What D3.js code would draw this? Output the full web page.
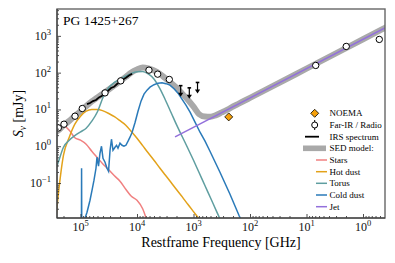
<!DOCTYPE html>
<html>
<head>
<meta charset="utf-8">
<script src="https://cdn.jsdelivr.net/npm/d3@7"></script>
<style>
  body { margin: 0; background: #fff; }
  svg, svg text { font-family: "Liberation Serif", "Times New Roman", "DejaVu Serif", serif; }
</style>
</head>
<body>
<svg id="sed" width="395" height="263" font-family="Liberation Serif, Times New Roman, serif"></svg>
<script>
// photometry, restframe GHz / mJy
const firFreq = [247000, 196000, 125000, 93000, 36800, 19400, 6140, 4310, 2680, 6.87, 1.98, 0.515];
const firFlux = [3.15, 3.97, 6.55, 10.6, 28.2, 59.8, 117, 91, 65.3, 157, 516, 800];
const noemaFreq = [238];
const noemaFlux = [6.27];
const limFreq = [1687, 1186, 849];
const limFlux = [44.3, 38.6, 54.1];

// IRS spectrum
const irsFreq = [76700, 67900, 60100, 53200, 47100, 41600, 36800, 32600, 28800, 25500, 22600, 20000, 17700, 15700, 13900, 12200];
const irsFlux = [13.9, 15.0, 16.9, 18.0, 21.2, 23.5, 27.9, 32.0, 38.3, 41.2, 49.0, 54.6, 65.0, 72.5, 83.5, 93.5];

// model components on a common frequency grid
const modelFreq = [316000, 251000, 200000, 158000, 126000, 100000, 79400, 63100, 50100, 39800,
  31600, 25100, 20000, 15800, 12600, 10000, 7940, 6310, 5010, 3980,
  3160, 2510, 2000, 1580, 1260, 1000, 794, 631, 501, 398,
  316, 251, 200, 158, 126, 100];
const starsFlux = [3.0, 3.40, 3.61, 2.72, 1.70, 1.46, 1.13, 0.731, 0.486, 0.324,
  0.229, 0.157, 0.112, 0.0676, 0.0436, 0.0339, 0.0199, 0.0071, null, null,
  null, null, null, null, null, null, null, null, null, null,
  null, null, null, null, null, null];
const hotFlux = [0.0008, 0.0385, 0.569, 1.76, 3.97, 6.55, 8.96, 10.0, 10.0, 9.14,
  7.76, 6.35, 4.94, 3.73, 2.51, 1.65, 1.04, 0.653, 0.416, 0.260,
  0.165, 0.105, 0.0664, 0.0420, 0.0264, 0.0167, 0.0106, 0.00665, null, null,
  null, null, null, null, null, null];
const torusFlux = [0.13, 0.344, 0.939, 1.46, 1.93, 2.45, 3.09, 4.79, 8.68, 21.5,
  39.5, 54.1, 66.5, 81.3, 95.7, 106, 108, 92.2, 67.4, 37.9,
  18.4, 8.42, 3.85, 1.81, 0.883, 0.416, 0.190, 0.0868, 0.0397, 0.0181,
  0.00828, null, null, null, null, null];

// cold dust template (with PAH features)
const coldFreq = [96400, 95700, 94900, 84900, 83200, 76700, 67900, 62600, 57700, 53200,
  51100, 48000, 45200, 42500, 40000, 36800, 34000, 31900, 30000, 28300,
  26600, 24500, 23000, 21700, 20000, 18400, 17000, 15700, 14400, 13300,
  12200, 10800, 9600, 8490, 7520, 6650, 5890, 5000, 4250, 3610,
  3070, 2610, 2210, 1880, 1600, 1360, 1150, 940, 767, 625,
  511, 340, 226, 157, 123];
const coldFlux = [0.00277, 0.252, 0.00277, 0.00277, 0.011, 0.016, 0.034, 0.0635, 0.119, 0.252,
  0.502, 0.286, 0.645, 1.00, 0.471, 0.367, 0.252, 0.209, 0.778, 1.55,
  0.778, 0.939, 1.06, 0.883, 1.21, 1.06, 1.00, 1.06, 1.37, 1.76,
  2.40, 4.50, 8.96, 16.8, 26.0, 33.4, 40.3, 47.1, 51.8, 53.4,
  50.2, 45.7, 36.7, 27.7, 19.0, 13.1, 8.42, 4.50, 2.40, 1.37,
  0.731, 0.196, 0.0494, 0.0133, 0.00587];

const jetFreq = [2120, 0.41];
const jetFlux = [1.79, 1650];

// total SED model
const sedFreq = [316000, 251000, 200000, 158000, 126000, 100000, 79400, 63100, 50100, 39800,
  31600, 25100, 20000, 15800, 12600, 10000, 7940, 6310, 5010, 3980,
  3160, 2510, 2000, 1580, 1260, 1000, 794, 631, 501, 398,
  316, 251, 200, 158, 126, 100, 10, 1, 0.316];
const sedFlux = [2.12, 2.64, 3.66, 4.88, 6.63, 8.96, 12.3, 16.5, 21.3, 27.2,
  34.7, 44.9, 58.7, 76.4, 101, 122, 137, 130, 115, 94,
  70.8, 53.4, 39.1, 26.8, 18.4, 11.9, 7.4, 6.4, 6.3, 7.0,
  8.3, 9.9, 12.0, 14.4, 17.2, 20.6, 128, 808, 2030];

const xTicks = [1e5, 1e4, 1e3, 1e2, 1e1, 1e0];
const xTickExp = ["5", "4", "3", "2", "1", "0"];
const yTicks = [1e-1, 1e0, 1e1, 1e2, 1e3];
const yTickExp = ["\u22121", "0", "1", "2", "3"];

const compNames = ["Stars", "Hot dust", "Torus", "Cold dust", "Jet"];
const compColors = ["#f08080", "#e3a21a", "#5f9ea0", "#2a7ab9", "#9370db"];

const svg = d3.select("#sed");
const L = 57, R = 385, T = 9, B = 218;

const x = d3.scaleLog().domain([260600, 0.408]).range([L, R]);
const y = d3.scaleLog().domain([0.0112, 5370]).range([B, T]);

svg.append("clipPath").attr("id", "clip")
  .append("rect").attr("x", L).attr("y", T).attr("width", R - L).attr("height", B - T);

const plot = svg.append("g").attr("clip-path", "url(#clip)");

const pairs = (fs, ss) => fs.map((f, i) => ({f, s: ss[i]}));
const line = d3.line()
  .defined(d => d.s != null)
  .x(d => x(d.f)).y(d => y(d.s))
  .curve(d3.curveMonotoneX);
const rough = d3.line().x(d => x(d.f)).y(d => y(d.s));

// SED model
plot.append("path").attr("d", line(pairs(sedFreq, sedFlux)))
  .attr("fill", "none").attr("stroke", "#a9a9a9").attr("stroke-width", 6)
  .attr("stroke-linejoin", "round");

// components
const comps = [
  {d: pairs(modelFreq, starsFlux), c: 0, gen: line},
  {d: pairs(modelFreq, hotFlux), c: 1, gen: line},
  {d: pairs(modelFreq, torusFlux), c: 2, gen: line},
  {d: pairs(coldFreq, coldFlux), c: 3, gen: rough},
  {d: pairs(jetFreq, jetFlux), c: 4, gen: rough}
];
comps.forEach(k => {
  plot.append("path").attr("d", k.gen(k.d))
    .attr("fill", "none").attr("stroke", compColors[k.c]).attr("stroke-width", 1.5);
});

// IRS
plot.append("path").attr("d", rough(pairs(irsFreq, irsFlux)))
  .attr("fill", "none").attr("stroke", "#000").attr("stroke-width", 1.8);

// photometry
plot.selectAll("circle.fir").data(pairs(firFreq, firFlux)).join("circle")
  .attr("class", "fir")
  .attr("cx", d => x(d.f)).attr("cy", d => y(d.s)).attr("r", 3.2)
  .attr("fill", "#fff").attr("stroke", "#000").attr("stroke-width", 1);

plot.selectAll("path.noema").data(pairs(noemaFreq, noemaFlux)).join("path")
  .attr("class", "noema")
  .attr("transform", d => `translate(${x(d.f)},${y(d.s)})`)
  .attr("d", "M0,-4L4,0L0,4L-4,0Z")
  .attr("fill", "#f5a00a").attr("stroke", "#000").attr("stroke-width", 0.8);

const lim = plot.selectAll("g.lim").data(pairs(limFreq, limFlux)).join("g")
  .attr("class", "lim")
  .attr("transform", d => `translate(${x(d.f)},${y(d.s)})`);
lim.append("line").attr("x1", -1.8).attr("x2", 1.8).attr("stroke", "#000").attr("stroke-width", 1.6);
lim.append("line").attr("y1", 0).attr("y2", 8).attr("stroke", "#000").attr("stroke-width", 1.2);
lim.append("path").attr("d", "M-2.6,7L2.6,7L0,11Z").attr("fill", "#000");

// axes
function minors(lo, hi) {
  const out = [];
  for (let e = lo; e <= hi; e++) for (let k = 2; k <= 9; k++) out.push(k * Math.pow(10, e));
  return out;
}
const xMin = minors(-1, 5).filter(v => v < 260600 && v > 0.408);
const yMin = minors(-2, 3).filter(v => v > 0.0112 && v < 5370);

svg.append("g").attr("transform", `translate(0,${B})`)
  .call(d3.axisBottom(x).tickValues(xTicks).tickSize(-4).tickFormat(""));
svg.append("g").attr("transform", `translate(0,${B})`)
  .call(d3.axisBottom(x).tickValues(xMin).tickSize(-2).tickFormat(""));
svg.append("g").attr("transform", `translate(${L},0)`)
  .call(d3.axisLeft(y).tickValues(yTicks).tickSize(-4).tickFormat(""));
svg.append("g").attr("transform", `translate(${L},0)`)
  .call(d3.axisLeft(y).tickValues(yMin).tickSize(-2).tickFormat(""));
svg.selectAll(".domain").remove();
svg.selectAll(".tick line").attr("stroke", "#222").attr("stroke-width", 0.8);

const xl = svg.append("g").selectAll("text").data(xTicks).join("text")
  .attr("x", d => x(d)).attr("y", 231)
  .attr("text-anchor", "middle").attr("font-size", 12).attr("fill", "#111");
xl.append("tspan").text("10");
xl.append("tspan").attr("dy", -5).attr("font-size", 8.5).text((d, i) => xTickExp[i]);

const yl = svg.append("g").selectAll("text").data(yTicks).join("text")
  .attr("x", 51).attr("y", d => y(d) + 4)
  .attr("text-anchor", "end").attr("font-size", 12).attr("fill", "#111");
yl.append("tspan").text("10");
yl.append("tspan").attr("dy", -5).attr("font-size", 8.5).text((d, i) => yTickExp[i]);

// frame
svg.append("rect").attr("x", L).attr("y", T).attr("width", R - L).attr("height", B - T)
  .attr("fill", "none").attr("stroke", "#666").attr("stroke-width", 1.4);
svg.append("path").attr("d", `M${L},${T}V${B}H${R}`)
  .attr("fill", "none").attr("stroke", "#333").attr("stroke-width", 1);

// labels
svg.append("text").attr("x", 63).attr("y", 25).attr("font-size", 13.5).text("PG 1425+267");

svg.append("text").attr("x", 221).attr("y", 247).attr("text-anchor", "middle")
  .attr("font-size", 14).text("Restframe Frequency [GHz]");

const ylab = svg.append("text").attr("transform", "translate(23,113.5) rotate(-90)")
  .attr("text-anchor", "middle").attr("font-size", 14);
ylab.append("tspan").attr("font-style", "italic").text("S");
ylab.append("tspan").attr("font-style", "italic").attr("font-size", 9.5).attr("dy", 3).text("\u03bd");
ylab.append("tspan").attr("dy", -3).text(" [mJy]");

// legend
const lg = svg.append("g").attr("font-size", 9);
const rowY = [113.3, 125, 136.7, 148.3, 160, 171.7, 183.3, 195, 206.7];
const textX = 329.5;
lg.append("path").attr("transform", `translate(314.7,${rowY[0]})`)
  .attr("d", "M0,-4L4,0L0,4L-4,0Z").attr("fill", "#f5a00a").attr("stroke", "#000").attr("stroke-width", 0.8);
lg.append("line").attr("x1", 314.7).attr("x2", 314.7).attr("y1", rowY[1] - 5).attr("y2", rowY[1] + 5)
  .attr("stroke", "#000").attr("stroke-width", 1);
lg.append("circle").attr("cx", 314.7).attr("cy", rowY[1]).attr("r", 3)
  .attr("fill", "#fff").attr("stroke", "#000");
lg.append("line").attr("x1", 305).attr("x2", 319).attr("y1", rowY[2]).attr("y2", rowY[2])
  .attr("stroke", "#000").attr("stroke-width", 1.8);
lg.append("rect").attr("x", 303).attr("y", rowY[3] - 2.8).attr("width", 23).attr("height", 5.6)
  .attr("fill", "#a9a9a9");
const mainNames = ["NOEMA", "Far-IR / Radio", "IRS spectrum", "SED model:"];
mainNames.forEach((n, i) => {
  lg.append("text").attr("x", textX).attr("y", rowY[i] + 3).text(n);
});
compNames.forEach((n, i) => {
  const yy = rowY[i + 4];
  lg.append("line").attr("x1", 316).attr("x2", 327).attr("y1", yy).attr("y2", yy)
    .attr("stroke", compColors[i]).attr("stroke-width", 1.5);
  lg.append("text").attr("x", textX).attr("y", yy + 3).text(n);
});
</script>
</body>
</html>
